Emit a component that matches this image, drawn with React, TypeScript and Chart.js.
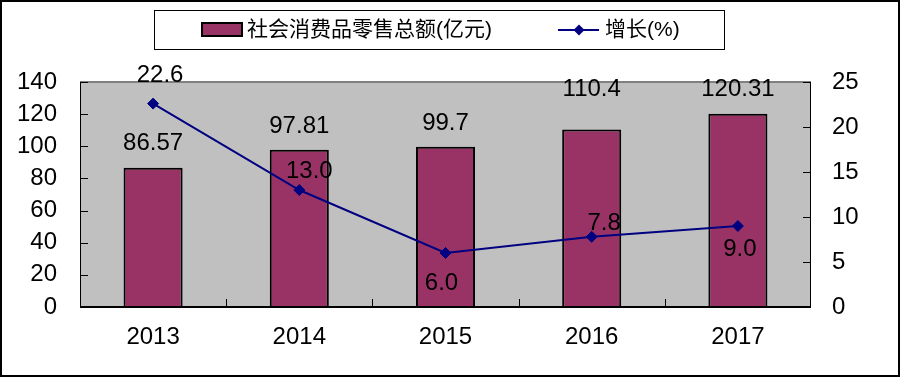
import React, { useEffect, useRef } from "react";
import { Chart, registerables } from "chart.js";

Chart.register(...registerables);

// ---------- data ----------
const categories = ["2013", "2014", "2015", "2016", "2017"];
const salesValues = [86.57, 97.81, 99.7, 110.4, 120.31];
const growthValues = [22.6, 13.0, 6.0, 7.8, 9.0];
const salesLabels = ["86.57", "97.81", "99.7", "110.4", "120.31"];
const growthLabels = ["22.6", "13.0", "6.0", "7.8", "9.0"];
const leftAxisRange = [0, 140];
const leftAxisStep = 20;
const rightAxisRange = [0, 25];
const rightAxisStep = 5;
const seriesNames = ["社会消费品零售总额(亿元)", "增长(%)"];

// ---------- style ----------
const FONT = '"Liberation Sans", Arial, "Noto Sans CJK SC", sans-serif';
const BAR_COLOR = "#993366";
const LINE_COLOR = "#000080";
const PLOT_BG = "#C0C0C0";
const barLabelDy = [-24, -23.5, -23, -40.5, -24];
const lineLabelOffsets = [
  [7, -28],
  [10, -18.5],
  [-4, 30.5],
  [12.5, -13],
  [2, 23],
];

function seg(ctx: CanvasRenderingContext2D, x1: number, y1: number, x2: number, y2: number) {
  ctx.beginPath();
  ctx.moveTo(x1, y1);
  ctx.lineTo(x2, y2);
  ctx.stroke();
}

const decor = {
  id: "decor",
  beforeDraw(chart: any) {
    const { ctx, chartArea: a, width, height } = chart;
    ctx.save();
    ctx.fillStyle = "#fff";
    ctx.fillRect(0, 0, width, height);
    ctx.fillStyle = PLOT_BG;
    ctx.fillRect(a.left, a.top, a.right - a.left, a.bottom - a.top);
    ctx.restore();
  },
  afterDatasetsDraw(chart: any) {
    const { ctx, chartArea: a, scales } = chart;
    ctx.save();
    // top border
    ctx.strokeStyle = "#808080";
    ctx.lineWidth = 2;
    seg(ctx, a.left, a.top, a.right, a.top);
    // side axis lines
    ctx.strokeStyle = "#000";
    ctx.lineWidth = 1;
    seg(ctx, a.left + 0.5, a.top, a.left + 0.5, a.bottom);
    seg(ctx, a.right - 0.5, a.top, a.right - 0.5, a.bottom);
    // inner tick marks
    scales.y.ticks.forEach((t: any) => {
      const y = Math.round(scales.y.getPixelForValue(t.value)) + 0.5;
      seg(ctx, a.left, y, a.left + 8, y);
    });
    scales.y1.ticks.forEach((t: any) => {
      const y = Math.round(scales.y1.getPixelForValue(t.value)) + 0.5;
      seg(ctx, a.right - 8, y, a.right, y);
    });
    const xs = scales.x;
    for (let k = 1; k < categories.length; k++) {
      const x = Math.round((xs.getPixelForTick(k - 1) + xs.getPixelForTick(k)) / 2) + 0.5;
      seg(ctx, x, a.bottom, x, a.bottom - 8);
    }
    // bottom axis
    ctx.lineWidth = 2;
    seg(ctx, a.left, a.bottom, a.right, a.bottom);
    ctx.restore();
  },
  afterDraw(chart: any) {
    const { ctx, width, height } = chart;
    ctx.save();
    // data labels
    ctx.fillStyle = "#000";
    ctx.font = `24px ${FONT}`;
    ctx.textAlign = "center";
    ctx.textBaseline = "middle";
    const barMeta = chart.getDatasetMeta(0);
    barMeta.data.forEach((el: any, i: number) => {
      ctx.fillText(salesLabels[i], el.x, el.y + barLabelDy[i]);
    });
    const lineMeta = chart.getDatasetMeta(1);
    lineMeta.data.forEach((el: any, i: number) => {
      const [dx, dy] = lineLabelOffsets[i];
      ctx.fillText(growthLabels[i], el.x + dx, el.y + dy);
    });

    // legend
    ctx.strokeStyle = "#000";
    ctx.lineWidth = 1;
    ctx.strokeRect(154.5, 10.5, 570, 39);
    // bar swatch
    ctx.fillStyle = BAR_COLOR;
    ctx.fillRect(202, 23, 40, 13);
    ctx.lineWidth = 2;
    ctx.strokeRect(202, 23, 40, 13);
    // line swatch
    ctx.strokeStyle = LINE_COLOR;
    ctx.lineWidth = 2;
    seg(ctx, 558, 30, 599, 30);
    ctx.fillStyle = LINE_COLOR;
    ctx.beginPath();
    ctx.moveTo(579 - 5.5, 30);
    ctx.lineTo(579, 30 - 5.5);
    ctx.lineTo(579 + 5.5, 30);
    ctx.lineTo(579, 30 + 5.5);
    ctx.closePath();
    ctx.fill();
    ctx.fillStyle = "#000";
    ctx.font = `21px ${FONT}`;
    ctx.textAlign = "left";
    ctx.textBaseline = "middle";
    ctx.fillText(seriesNames[0], 247, 30);
    ctx.fillText(seriesNames[1], 605, 30);

    // outer border
    ctx.strokeStyle = "#000";
    ctx.lineWidth = 2;
    ctx.strokeRect(1, 1, width - 3, height - 2);
    ctx.restore();
  },
};

export default function App() {
  const ref = useRef<HTMLCanvasElement | null>(null);
  useEffect(() => {
    if (!ref.current) return;
    const tickFont = { family: FONT, size: 24 };
    const chart = new Chart(ref.current, {
      type: "bar",
      data: {
        labels: categories,
        datasets: [
          {
            type: "bar",
            label: seriesNames[0],
            data: salesValues,
            backgroundColor: BAR_COLOR,
            borderColor: "#000",
            borderWidth: 2,
            barPercentage: 0.404,
            categoryPercentage: 1,
            yAxisID: "y",
            order: 2,
          },
          {
            type: "line",
            label: seriesNames[1],
            data: growthValues,
            borderColor: LINE_COLOR,
            borderWidth: 2,
            pointStyle: "rectRot",
            pointRadius: 5.5,
            pointBorderWidth: 1,
            pointBackgroundColor: LINE_COLOR,
            pointBorderColor: LINE_COLOR,
            yAxisID: "y1",
            order: 1,
            tension: 0,
          } as any,
        ],
      },
      options: {
        animation: false,
        responsive: true,
        maintainAspectRatio: false,
        layout: { padding: { top: 82, left: 0, right: 0, bottom: 0 } },
        plugins: {
          legend: { display: false },
          tooltip: { enabled: false },
        },
        scales: {
          x: {
            type: "category",
            offset: true,
            grid: { display: false, drawTicks: false },
            border: { display: false },
            ticks: { color: "#000", font: tickFont, padding: 16, maxRotation: 0 },
            afterFit: (s: any) => {
              s.height = 70;
            },
          },
          y: {
            position: "left",
            min: leftAxisRange[0],
            max: leftAxisRange[1],
            grid: { display: false, drawTicks: false },
            border: { display: false },
            ticks: { stepSize: leftAxisStep, color: "#000", font: tickFont, padding: 23 },
            afterFit: (s: any) => {
              s.width = 80;
            },
          },
          y1: {
            position: "right",
            min: rightAxisRange[0],
            max: rightAxisRange[1],
            grid: { display: false, drawTicks: false },
            border: { display: false },
            ticks: { stepSize: rightAxisStep, color: "#000", font: tickFont, padding: 21 },
            afterFit: (s: any) => {
              s.width = 90;
            },
          },
        },
      } as any,
      plugins: [decor],
    });
    return () => chart.destroy();
  }, []);
  return (
    <div style={{ position: "fixed", left: 0, top: 0, width: 901, height: 377, background: "#fff" }}>
      <canvas ref={ref} />
    </div>
  );
}
